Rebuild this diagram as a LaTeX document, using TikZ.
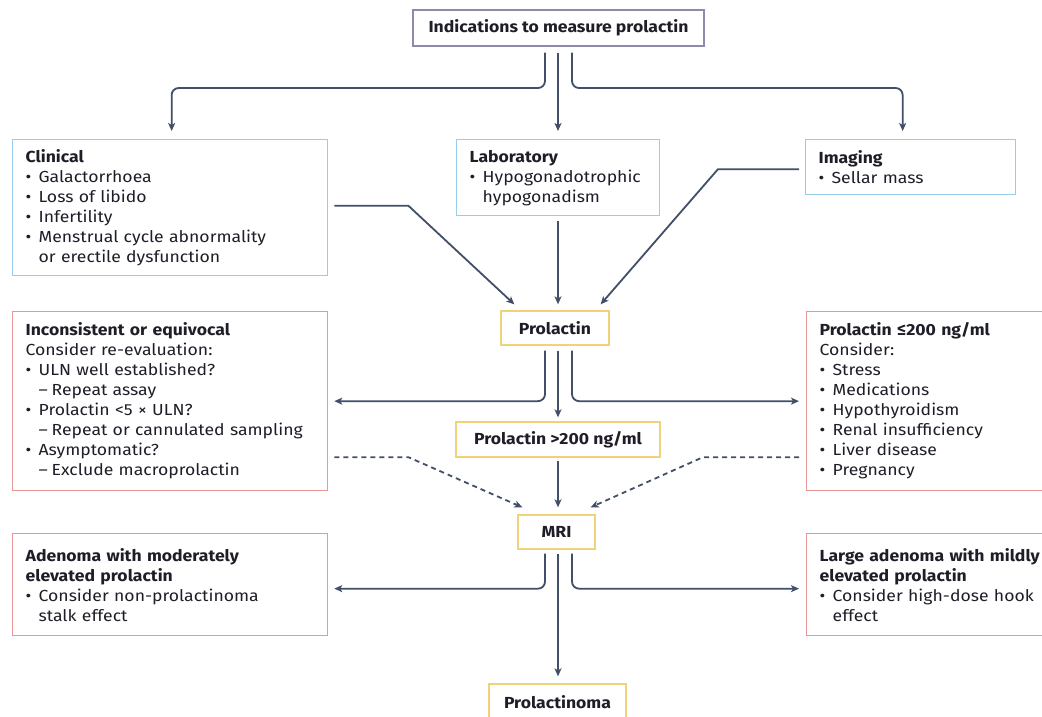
\documentclass[tikz,border=0pt]{standalone}
\usepackage{fontspec}
\setmainfont[FakeStretch=1.1]{Fira Sans}
\usetikzlibrary{arrows.meta,calc}
\definecolor{arrc}{RGB}{66,79,104}
\definecolor{bluec}{RGB}{150,205,235}
\definecolor{yelc}{RGB}{240,210,120}
\definecolor{redc}{RGB}{232,150,150}
\definecolor{topc}{RGB}{140,140,170}
\definecolor{txtc}{RGB}{30,30,40}
\newcommand\bul{\makebox[13pt][l]{•}}
\newcommand\indt{\hspace*{13pt}}
\newcommand\subd{\hspace*{13pt}\makebox[13pt][l]{–}}
\tikzset{
  box/.style={draw, line width=1.3pt, inner xsep=13pt, inner ysep=0pt, anchor=north west,
    align=left, text=txtc, font=\fontsize{16}{20}\selectfont},
  cbox/.style={draw, line width=1.3pt, inner sep=0pt, align=center, text=txtc,
    font=\fontsize{16}{20}\selectfont\bfseries},
  arr/.style={draw=arrc, line width=1.8pt, -{Stealth[length=8pt,width=7pt,inset=2pt]}},
  darr/.style={arr, dash pattern=on 5pt off 4pt},
}
\begin{document}
\begin{tikzpicture}[x=1pt,y=-1pt]
\clip (0,0) rectangle (1042,717);
\fill[white] (0,0) rectangle (1042,717);
\coordinate (cL) at (545,0);
\coordinate (cM) at (558,0);
\coordinate (cR) at (572,0);
% boxes
\node[cbox, draw=topc, minimum width=291, minimum height=36] (ind) at (558.5,28) {Indications to measure prolactin};
\node[box, draw=bluec, text width=289, minimum height=136] (clin) at (12,139)
 {\textbf{Clinical}\\ \bul Galactorrhoea\\ \bul Loss of libido\\ \bul Infertility\\ \bul Menstrual cycle abnormality\\ \indt or erectile dysfunction};
\node[box, draw=bluec, text width=177, minimum height=76] (lab) at (456,139)
 {\textbf{Laboratory}\\ \bul Hypogonadotrophic\\ \indt hypogonadism};
\node[box, draw=bluec, text width=184, minimum height=55] (img) at (805,139)
 {\textbf{Imaging}\\ \bul Sellar mass};
\node[cbox, draw=yelc, minimum width=108, minimum height=34] (prl) at (555,328) {Prolactin};
\node[box, draw=redc, text width=289, minimum height=179] (inc) at (12,311)
 {\textbf{Inconsistent or equivocal}\\ Consider re-evaluation:\\ \bul ULN well established?\\ \subd Repeat assay\\ \bul Prolactin <5 × ULN?\\ \subd Repeat or cannulated sampling\\ \bul Asymptomatic?\\ \subd Exclude macroprolactin};
\node[box, draw=redc, text width=234, minimum height=179] (le) at (806,311)
 {\textbf{Prolactin ≤200 ng/ml}\\ Consider:\\ \bul Stress\\ \bul Medications\\ \bul Hypothyroidism\\ \bul Renal insufficiency\\ \bul Liver disease\\ \bul Pregnancy};
\node[cbox, draw=yelc, minimum width=204, minimum height=35] (p200) at (558,439.5) {Prolactin >200 ng/ml};
\node[cbox, draw=yelc, minimum width=77, minimum height=34] (mri) at (556.5,532) {MRI};
\node[box, draw=redc, text width=289, minimum height=102] (ad1) at (12,533)
 {\textbf{Adenoma with moderately}\\ \textbf{elevated prolactin}\\ \bul Consider non-prolactinoma\\ \indt stalk effect};
\node[box, draw=redc, text width=234, minimum height=102] (ad2) at (806,533)
 {\textbf{Large adenoma with mildly}\\ \textbf{elevated prolactin}\\ \bul Consider high-dose hook\\ \indt effect};
\node[cbox, draw=yelc, minimum width=137, minimum height=36] (prla) at (557.5,702) {Prolactinoma};
% connectors from top
\draw[arr, rounded corners=7] ($(ind.south -| cL)+(0,6)$) |- ($(clin.north)+(1.5,-51)$) -- ($(clin.north)+(1.5,-8)$);
\draw[arr] ($(ind.south -| cM)+(0,6)$) -- ($(lab.north -| cM)+(0,-8)$);
\draw[arr, rounded corners=7] ($(ind.south -| cR)+(0,6)$) |- ($(img.north)+(-8,-51)$) -- ($(img.north)+(-8,-8)$);
% into prolactin
\draw[arr] ($(clin.east)+(6,-2)$) -- ++(74,0) -- ($(prl.north west)+(14,-6)$);
\draw[arr] ($(lab.south -| cM)+(0,5)$) -- ($(prl.north -| cM)+(0,-6)$);
\draw[arr] ($(img.west)+(-6,2)$) -- ++(-81,0) -- ($(prl.north east)+(-9,-6)$);
% from prolactin
\draw[arr, rounded corners=7] ($(prl.south -| cL)+(0,5)$) |- ($(inc.east)+(6,0)$);
\draw[arr] ($(prl.south -| cM)+(0,5)$) -- ($(p200.north -| cM)+(0,-4)$);
\draw[arr, rounded corners=7] ($(prl.south -| cR)+(0,5)$) |- ($(le.west)+(-7,0)$);
% to MRI
\draw[darr] ($(inc.east)+(6,56)$) -- ++(74,0) -- ($(mri.north west)+(5,-7)$);
\draw[darr] ($(le.west)+(-7,56)$) -- ++(-96,0) -- ($(mri.north east)+(-5,-7)$);
\draw[arr] ($(p200.south -| cM)+(0,3)$) -- ($(mri.north -| cM)+(0,-7)$);
% from MRI
\draw[arr, rounded corners=7] ($(mri.south -| cL)+(0,4)$) |- ($(ad1.east)+(6,4)$);
\draw[arr, rounded corners=7] ($(mri.south -| cR)+(0,4)$) |- ($(ad2.west)+(-7,4)$);
\draw[arr] ($(mri.south -| cM)+(0,4)$) -- ($(prla.north -| cM)+(0,-7)$);
\end{tikzpicture}
\end{document}
